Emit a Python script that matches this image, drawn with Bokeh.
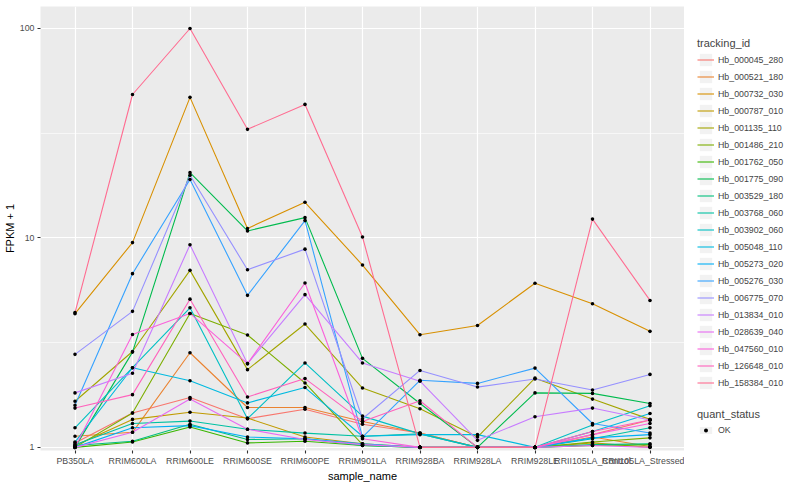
from bokeh.plotting import figure
from bokeh.layouts import row
from bokeh.models import FactorRange, Range1d, FixedTicker, BasicTickFormatter, Legend, LegendItem
from bokeh.embed import file_html
from bokeh.resources import INLINE

samples = ["PB350LA", "RRIM600LA", "RRIM600LE", "RRIM600SE", "RRIM600PE", "RRIM901LA",
           "RRIM928BA", "RRIM928LA", "RRIM928LE", "RRII105LA_Control", "RRII105LA_Stressed"]

tracking_ids = ["Hb_000045_280", "Hb_000521_180", "Hb_000732_030", "Hb_000787_010",
                "Hb_001135_110", "Hb_001486_210", "Hb_001762_050", "Hb_001775_090",
                "Hb_003529_180", "Hb_003768_060", "Hb_003902_060", "Hb_005048_110",
                "Hb_005273_020", "Hb_005276_030", "Hb_006775_070", "Hb_013834_010",
                "Hb_028639_040", "Hb_047560_010", "Hb_126648_010", "Hb_158384_010"]

colors = ["#F8766D", "#EA8331", "#D89000", "#C09B00", "#A3A500", "#7CAE00", "#39B600",
          "#00BB4E", "#00BF7D", "#00C1A3", "#00BFC4", "#00BAE0", "#00B0F6", "#35A2FF",
          "#9590FF", "#C77CFF", "#E76BF3", "#FA62DB", "#FF62BC", "#FF6C91"]

# FPKM + 1 per sample
hb_000045_280 = [1.05, 1.46, 1.73, 1.37, 1.52, 1.29, 1.17, 1.0, 1.0, 1.15, 1.35]
hb_000521_180 = [1.13, 1.18, 2.83, 1.55, 1.55, 1.33, 1.17, 1.0, 1.0, 1.12, 1.01]
hb_000732_030 = [4.35, 9.5, 46.9, 11.1, 14.8, 7.42, 3.45, 3.82, 6.08, 4.85, 3.58]
hb_000787_010 = [1.02, 1.36, 1.47, 1.38, 1.12, 1.04, 1.0, 1.0, 1.0, 1.05, 1.0]
hb_001135_110 = [1.66, 2.87, 7.0, 2.35, 3.88, 1.92, 1.53, 1.12, 2.14, 1.70, 1.36]
hb_001486_210 = [1.0, 1.46, 4.36, 3.44, 2.03, 1.03, 1.0, 1.0, 1.0, 1.06, 1.11]
hb_001762_050 = [1.0, 1.06, 1.25, 1.05, 1.07, 1.02, 1.0, 1.0, 1.0, 1.02, 1.03]
hb_001775_090 = [1.0, 2.85, 20.5, 10.8, 12.5, 2.66, 1.62, 1.0, 1.82, 1.81, 1.62]
hb_003529_180 = [1.02, 1.07, 1.29, 1.09, 1.10, 1.02, 1.0, 1.0, 1.0, 1.03, 1.04]
hb_003768_060 = [1.03, 1.30, 1.335, 1.22, 1.17, 1.13, 1.16, 1.0, 1.0, 1.10, 1.24]
hb_003902_060 = [1.24, 2.40, 4.64, 1.37, 2.53, 1.41, 1.16, 1.0, 1.0, 1.28, 1.58]
hb_005048_110 = [1.06, 2.40, 2.08, 1.63, 1.93, 1.13, 1.15, 1.15, 1.0, 1.19, 1.45]
hb_005273_020 = [1.0, 1.24, 1.27, 1.12, 1.10, 1.04, 1.0, 1.0, 1.0, 1.11, 1.15]
hb_005276_030 = [1.59, 6.75, 19.0, 5.32, 12.1, 1.12, 2.09, 2.02, 2.39, 1.30, 1.17]
hb_006775_070 = [2.78, 4.46, 19.9, 7.05, 8.84, 1.37, 2.33, 1.94, 2.12, 1.88, 2.23]
hb_013834_010 = [1.82, 2.26, 9.28, 2.51, 5.36, 2.53, 2.07, 1.08, 1.40, 1.54, 1.35]
hb_028639_040 = [1.0, 1.18, 1.70, 1.22, 1.09, 1.03, 1.0, 1.0, 1.0, 1.02, 1.0]
hb_047560_010 = [1.0, 3.46, 4.36, 2.51, 6.09, 1.10, 1.0, 1.0, 1.0, 1.15, 1.30]
hb_126648_010 = [1.54, 1.785, 5.1, 1.74, 2.13, 1.33, 1.67, 1.0, 1.0, 1.19, 1.35]
hb_158384_010 = [4.4, 48.4, 100.0, 33.0, 43.4, 10.1, 1.0, 1.0, 1.0, 12.3, 5.03]

series = [hb_000045_280, hb_000521_180, hb_000732_030, hb_000787_010, hb_001135_110,
          hb_001486_210, hb_001762_050, hb_001775_090, hb_003529_180, hb_003768_060,
          hb_003902_060, hb_005048_110, hb_005273_020, hb_005276_030, hb_006775_070,
          hb_013834_010, hb_028639_040, hb_047560_010, hb_126648_010, hb_158384_010]

y_ticks = [1, 10, 100]
quant_status = "OK"

FONT = "Liberation Sans"

p = figure(width=684, height=484,
           x_range=FactorRange(factors=samples, range_padding=0.1, range_padding_units="absolute"),
           y_axis_type="log", y_range=Range1d(10 ** -0.015, 10 ** 2.105),
           output_backend="svg", toolbar_location=None,
           min_border_left=0, min_border_right=0, min_border_top=6, min_border_bottom=0)

p.background_fill_color = "#EBEBEB"
p.border_fill_color = "white"
p.outline_line_color = None

p.xgrid.grid_line_color = "white"
p.xgrid.grid_line_width = 1.2
p.ygrid.grid_line_color = "white"
p.ygrid.grid_line_width = 1.2
p.ygrid.minor_grid_line_color = "white"
p.ygrid.minor_grid_line_width = 0.6

p.yaxis.ticker = FixedTicker(ticks=y_ticks, minor_ticks=[10 ** 0.5, 10 ** 1.5])
p.yaxis.formatter = BasicTickFormatter()

for ax in [p.xaxis[0], p.yaxis[0]]:
    ax.axis_line_color = None
    ax.major_tick_line_color = "#333333"
    ax.major_tick_line_width = 1.1
    ax.major_tick_out = 3
    ax.major_tick_in = 0
    ax.minor_tick_line_color = None
    ax.major_label_text_color = "#4D4D4D"
    ax.major_label_text_font_size = "8.8px"
    ax.major_label_text_font = FONT
    ax.major_label_text_line_height = 1.0
    ax.major_label_standoff = 2
    ax.axis_label_text_font_size = "11px"
    ax.axis_label_text_font = FONT
    ax.axis_label_text_font_style = "normal"
    ax.axis_label_text_color = "black"
    ax.axis_label_text_line_height = 1.0
    ax.axis_label_standoff = 1

p.xaxis.axis_label = "sample_name"
p.yaxis.axis_label = "FPKM + 1"

line_renderers = []
for vals, col in zip(series, colors):
    r = p.line(x=samples, y=vals, line_color=col, line_width=1.1)
    line_renderers.append(r)

all_x = [s for vals in series for s in samples]
all_y = [v for vals in series for v in vals]
pts = p.scatter(x=all_x, y=all_y, marker="circle", size=3.6, fill_color="black", line_color=None)

# legend panel (its sample glyphs sit outside the visible range)
lf = figure(width=100, height=484, x_range=Range1d(0, 1), y_range=Range1d(0, 1),
            output_backend="svg", toolbar_location=None, x_axis_location=None,
            y_axis_location=None, min_border=0)
lf.grid.visible = False
lf.outline_line_color = None
lf.background_fill_color = "white"
lf.border_fill_color = "white"

off = dict(x=[-5], y=[-5])
key_bg = lf.rect(width=1, height=1, fill_color="#F2F2F2",
                 line_color="white", line_width=1.2, **off)
leg_lines = [lf.line(line_color=col, line_width=1.1, **off) for col in colors]
leg_pt = lf.scatter(marker="circle", size=3.6, fill_color="black", line_color=None, **off)

items = [LegendItem(label=tid, renderers=[key_bg, r]) for tid, r in zip(tracking_ids, leg_lines)]

common = dict(glyph_width=17, spacing=0, padding=0, margin=0,
              label_standoff=4, label_text_font_size="8.8px", label_text_font=FONT,
              title_text_font_size="11px", title_text_font=FONT, title_text_font_style="normal",
              background_fill_alpha=0, border_line_color=None)

leg1 = Legend(items=items, title="tracking_id", location=(13, 59),
              glyph_height=17, label_height=17, title_standoff=2, **common)
leg2 = Legend(items=[LegendItem(label=quant_status, renderers=[key_bg, leg_pt])],
              title="quant_status", location=(13, 15),
              glyph_height=10, label_height=10, title_standoff=5, **common)
lf.add_layout(leg1)
lf.add_layout(leg2)

layout = row(p, lf)
open("out.html", "w").write(file_html(layout, INLINE))
